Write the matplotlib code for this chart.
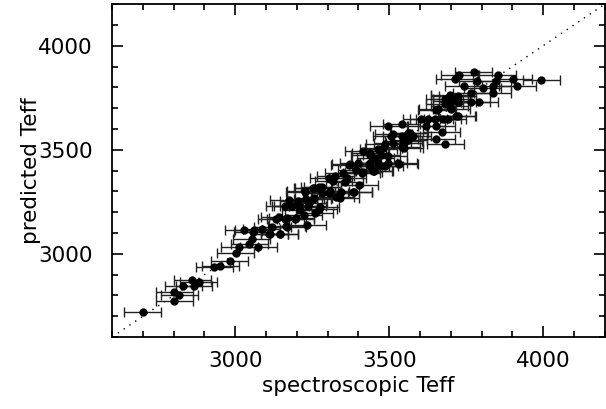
import numpy as np
import matplotlib
matplotlib.use("Agg")
import matplotlib.pyplot as plt
from matplotlib.ticker import MultipleLocator

# spectroscopic vs predicted Teff
spec_teff = [
    2699, 2802, 2802, 2818, 2831, 2860, 2866, 2881, 2931, 2951,
    2982, 3002, 3013, 3045, 3054, 3075, 3056, 3086, 3112, 3120,
    3144, 3166, 3233, 3142, 3169, 3196, 3223, 3180, 3206, 3239,
    3228, 3255, 3271, 3160, 3185, 3211, 3236, 3258, 3276, 3173,
    3204, 3229, 3251, 3226, 3251, 3273, 3281, 3305, 3326, 3342,
    3383, 3402, 3341, 3384, 3255, 3282, 3309, 3303, 3325, 3351,
    3373, 3400, 3416, 3438, 3448, 3465, 3497, 3529, 3416, 3438,
    3465, 3486, 3497, 3507, 3363, 3392, 3411, 3370, 3439, 3451,
    3467, 3486, 3533, 3480, 3511, 3549, 3549, 3497, 3540, 3513,
    3540, 3567, 3545, 3540, 3561, 3576, 3604, 3626, 3647, 3674,
    3690, 3717, 3620, 3653, 3671, 3653, 3682, 3653, 3680, 3701,
    3696, 3723, 3728, 3774, 3712, 3785, 3852, 3846, 3903, 3916,
    3994, 3742, 3803, 3836, 3766, 3836, 3696, 3680, 3701, 3723,
    3793, 3766, 3696, 3658, 3701, 3723, 3028, 3060, 3110, 3145,
    3169, 3133, 3163, 3195, 3318, 3355, 3474, 3455, 3436, 3561,
]
pred_teff = [
    2721, 2774, 2817, 2804, 2846, 2875, 2846, 2864, 2936, 2941,
    2966, 3006, 3032, 3048, 3071, 3032, 3103, 3119, 3097, 3129,
    3097, 3132, 3139, 3177, 3172, 3172, 3188, 3232, 3229, 3245,
    3301, 3269, 3213, 3228, 3228, 3212, 3228, 3196, 3225, 3260,
    3255, 3263, 3263, 3295, 3316, 3321, 3292, 3292, 3273, 3299,
    3295, 3332, 3269, 3296, 3317, 3322, 3301, 3366, 3373, 3390,
    3430, 3438, 3393, 3422, 3398, 3438, 3438, 3438, 3494, 3483,
    3502, 3526, 3470, 3567, 3364, 3404, 3388, 3427, 3437, 3396,
    3424, 3420, 3433, 3509, 3533, 3509, 3533, 3612, 3623, 3575,
    3567, 3580, 3543, 3511, 3581, 3565, 3647, 3650, 3647, 3647,
    3647, 3663, 3615, 3615, 3583, 3554, 3526, 3692, 3720, 3744,
    3760, 3760, 3860, 3873, 3840, 3832, 3860, 3832, 3840, 3808,
    3837, 3808, 3796, 3808, 3773, 3773, 3763, 3744, 3736, 3728,
    3728, 3728, 3712, 3696, 3696, 3661, 3112, 3116, 3095, 3095,
    3127, 3169, 3165, 3169, 3350, 3343, 3477, 3461, 3477, 3549,
]
XERR = 60

plt.rcParams['font.family'] = ['DejaVu Sans']

fig = plt.figure(figsize=(6.06, 4.09), dpi=100)
ax = fig.add_axes([0.185, 0.176, 0.813, 0.814])

ax.plot([2600, 4200], [2600, 4200], linestyle=(0, (1, 4)), color='black', lw=1.0)

ax.errorbar(spec_teff, pred_teff, xerr=XERR, fmt='o', color='black',
            ecolor='#222222', elinewidth=1.0, capsize=3.5, capthick=1.0,
            markersize=5)

ax.set_xlim(2600, 4200)
ax.set_ylim(2600, 4200)
ax.xaxis.set_major_locator(MultipleLocator(500))
ax.xaxis.set_minor_locator(MultipleLocator(100))
ax.yaxis.set_major_locator(MultipleLocator(500))
ax.yaxis.set_minor_locator(MultipleLocator(100))
ax.tick_params(which='both', direction='in', top=True, right=True, width=1.2)
ax.tick_params(which='major', length=8, labelsize=15.5)
ax.tick_params(axis='y', which='major', pad=14)
ax.tick_params(axis='x', which='major', pad=10)
ax.tick_params(which='minor', length=4.5)
for s in ax.spines.values():
    s.set_linewidth(1.3)

ax.set_xlabel('spectroscopic Teff', fontsize=15.5, labelpad=4)
ax.set_ylabel('predicted Teff', fontsize=15.5, labelpad=-2)

fig.savefig('out.png', dpi=100)
